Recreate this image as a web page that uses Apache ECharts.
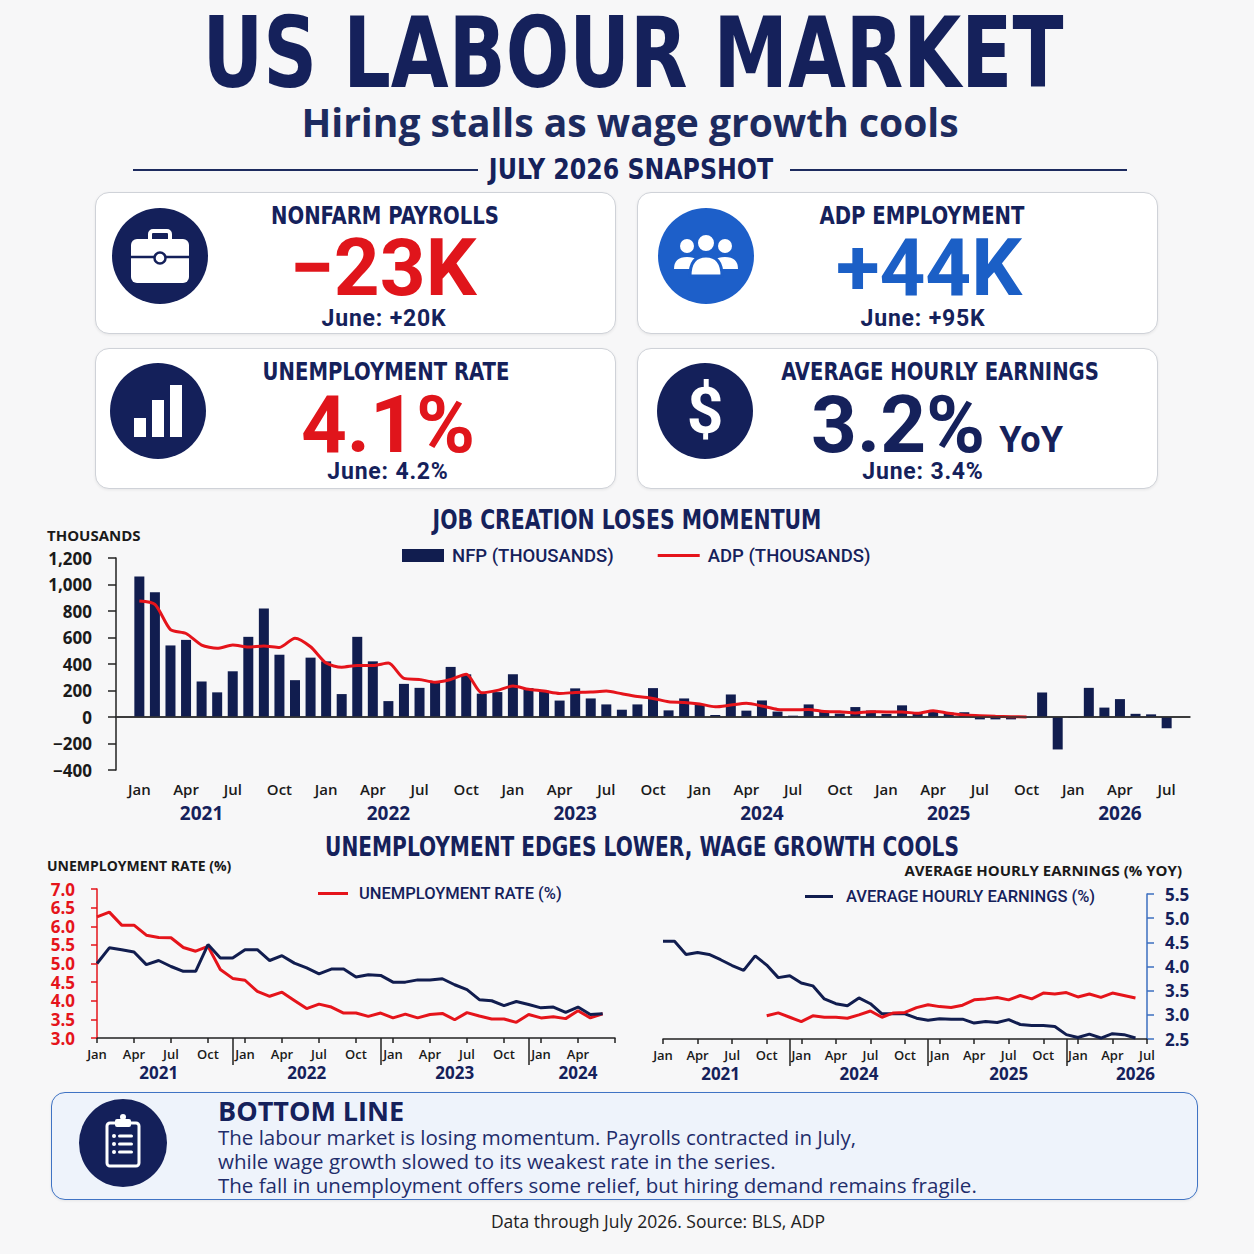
<!DOCTYPE html>
<html>
<head>
<meta charset="utf-8">
<script src="https://cdn.jsdelivr.net/npm/echarts@6/dist/echarts.min.js"></script>
<style>
html, body { margin: 0; padding: 0; background: #f7f7f8; }
#page { position: relative; width: 1254px; height: 1254px; overflow: hidden; background: #f7f7f8; color: #15215b; font-family: "Open Sans", "Noto Sans", sans-serif; }
#chart { position: absolute; left: 0; top: 0; width: 1254px; height: 1254px; }
.c { position: absolute; width: 1000px; text-align: center; white-space: nowrap; }
.narrow { font-family: "Liberation Sans Narrow", "DejaVu Sans Condensed", sans-serif; font-weight: 700; }
.big { font-family: Roboto, "Liberation Sans", sans-serif; font-weight: 700; }
.card { position: absolute; background: #fff; border: 1.5px solid #cfd2d8; border-radius: 14px; box-shadow: 0 1px 3px rgba(0,0,0,0.07); box-sizing: border-box; }
.ico { position: absolute; }
.line { position: absolute; height: 2px; background: #1d2b5f; }
.lbl { font-size: 24px; line-height: 24px; transform: scaleX(0.91); }
.val { font-size: 80px; line-height: 60px; }
.sub { font-size: 23px; line-height: 24px; letter-spacing: 0.8px; }
</style>
</head>
<body>
<div id="page">
  <div id="chart"></div>

  <div class="c narrow" style="left:8px;width:1250px;top:4px;font-size:98px;line-height:98px;transform:scaleX(0.848);">US LABOUR MARKET</div>
  <div class="c" style="left:130px;top:102px;font-size:39px;line-height:39px;font-weight:700;color:#1d2b5f;">Hiring stalls as wage growth cools</div>
  <div class="line" style="left:133px;top:169px;width:345px;"></div>
  <div class="line" style="left:790px;top:169px;width:337px;"></div>
  <div class="c narrow" style="left:131px;top:156px;font-size:28px;line-height:28px;transform:scaleX(0.94);">JULY 2026 SNAPSHOT</div>

  <div class="card" style="left:95px;top:192px;width:521px;height:142px;"></div>
  <div class="card" style="left:637px;top:192px;width:521px;height:142px;"></div>
  <div class="card" style="left:95px;top:348px;width:521px;height:141px;"></div>
  <div class="card" style="left:637px;top:348px;width:521px;height:141px;"></div>

  <svg class="ico" style="left:112px;top:208px" width="96" height="96" viewBox="0 0 96 96">
    <circle cx="48" cy="48" r="48" fill="#14205a"/>
    <path d="M38 31 v-5 a3 3 0 0 1 3 -3 h14 a3 3 0 0 1 3 3 v5" fill="none" stroke="#fff" stroke-width="4"/>
    <rect x="19" y="31" width="58" height="44" rx="6" fill="#fff"/>
    <path d="M19 49 H77" stroke="#14205a" stroke-width="2.5"/>
    <circle cx="48" cy="50" r="5.5" fill="#fff" stroke="#14205a" stroke-width="2.5"/>
  </svg>
  <svg class="ico" style="left:658px;top:208px" width="96" height="96" viewBox="0 0 96 96">
    <circle cx="48" cy="48" r="48" fill="#1d5fc9"/>
    <circle cx="29" cy="38" r="7" fill="#fff"/>
    <circle cx="67" cy="38" r="7" fill="#fff"/>
    <path d="M16 61 Q16 49 29 49 Q36 49 39 52 Q33 56 32 61 Z" fill="#fff"/>
    <path d="M80 61 Q80 49 67 49 Q60 49 57 52 Q63 56 64 61 Z" fill="#fff"/>
    <circle cx="48" cy="35" r="9" fill="#fff" stroke="#1d5fc9" stroke-width="2"/>
    <path d="M32 68 Q32 48 48 48 Q64 48 64 68 Z" fill="#fff" stroke="#1d5fc9" stroke-width="3"/>
  </svg>
  <svg class="ico" style="left:110px;top:363px" width="96" height="96" viewBox="0 0 96 96">
    <circle cx="48" cy="48" r="48" fill="#14205a"/>
    <rect x="24" y="55" width="12" height="19" fill="#fff"/>
    <rect x="42" y="37" width="12" height="37" fill="#fff"/>
    <rect x="60" y="22" width="12" height="52" fill="#fff"/>
  </svg>
  <svg class="ico" style="left:657px;top:363px" width="96" height="96" viewBox="0 0 96 96">
    <circle cx="48" cy="48" r="48" fill="#14205a"/>
    <text x="48" y="70" text-anchor="middle" font-family="Roboto, sans-serif" font-weight="700" font-size="64" fill="#fff">$</text>
  </svg>

  <div class="c narrow lbl" style="left:-115px;top:204px;">NONFARM PAYROLLS</div>
  <div class="c big val" style="left:-117px;top:238px;color:#e0151b;">&#8722;23K</div>
  <div class="c big sub" style="left:-116px;top:307px;">June: +20K</div>

  <div class="c narrow lbl" style="left:422px;top:204px;">ADP EMPLOYMENT</div>
  <div class="c big val" style="left:429px;top:238px;color:#1b5fc6;">+44K</div>
  <div class="c big sub" style="left:423px;top:307px;">June: +95K</div>

  <div class="c narrow lbl" style="left:-114px;top:360px;">UNEMPLOYMENT RATE</div>
  <div class="c big val" style="left:-112px;top:395px;color:#e0151b;">4.1%</div>
  <div class="c big sub" style="left:-112px;top:460px;">June: 4.2%</div>

  <div class="c narrow lbl" style="left:440px;top:360px;">AVERAGE HOURLY EARNINGS</div>
  <div class="c big val" style="left:437px;top:395px;">3.2%<span style="font-size:36px;line-height:36px;margin-left:14px;">YoY</span></div>
  <div class="c big sub" style="left:423px;top:460px;">June: 3.4%</div>

  <div class="card" style="left:51px;top:1092px;width:1147px;height:108px;background:#eef3fb;border-color:#3f73c4;"></div>
  <svg class="ico" style="left:79px;top:1099px" width="88" height="88" viewBox="0 0 88 88">
    <circle cx="44" cy="44" r="44" fill="#14205a"/>
    <rect x="28" y="24" width="32" height="43" rx="3" fill="none" stroke="#fff" stroke-width="3"/>
    <rect x="36" y="20" width="16" height="8" rx="2" fill="#fff"/>
    <circle cx="44" cy="18" r="3" fill="#fff"/>
    <circle cx="35" cy="37" r="2" fill="#fff"/><rect x="39" y="35.5" width="15" height="3" rx="1.5" fill="#fff"/>
    <circle cx="35" cy="45" r="2" fill="#fff"/><rect x="39" y="43.5" width="15" height="3" rx="1.5" fill="#fff"/>
    <circle cx="35" cy="53" r="2" fill="#fff"/><rect x="39" y="51.5" width="15" height="3" rx="1.5" fill="#fff"/>
  </svg>
  <div style="position:absolute;left:218px;top:1097px;font-size:27px;line-height:28px;font-weight:700;color:#15215b;white-space:nowrap;">BOTTOM LINE</div>
  <div style="position:absolute;left:218px;top:1125px;font-size:20.5px;line-height:24px;font-weight:500;color:#1f2d6b;white-space:nowrap;">
    The labour market is losing momentum. Payrolls contracted in July,<br>
    while wage growth slowed to its weakest rate in the series.<br>
    The fall in unemployment offers some relief, but hiring demand remains fragile.
  </div>
  <div class="c" style="left:158px;top:1211px;font-size:17.5px;line-height:20px;color:#222;">Data through July 2026. Source: BLS, ADP</div>
</div>

<script>
const MONTHS = ['Jan', 'Feb', 'Mar', 'Apr', 'May', 'Jun', 'Jul', 'Aug', 'Sep', 'Oct', 'Nov', 'Dec'];

// job creation, thousands, Jan 2021 - Jul 2026
const nfpK = [
	1060, 942, 540, 582, 268, 186, 345, 605, 818, 470, 278, 448,
	420, 173, 605, 420, 120, 250, 220, 262, 378, 322, 176, 188,
	322, 218, 198, 124, 216, 140, 95, 55, 95, 218, 50, 140,
	92, 15, 170, 48, 125, 41, 10, 95, 46, 26, 75, 49,
	23, 88, 33, 46, 33, 36, -18, -18, -18, -5, 185, -245,
	-5, 220, 71, 135, 24, 20, -85
];
// ADP, thousands, Jan 2021 - Oct 2025
const adpK = [
	875, 850, 660, 630, 543, 518, 543, 528, 536, 525, 595, 530,
	407, 376, 389, 389, 407, 291, 283, 263, 283, 322, 183, 201,
	234, 209, 196, 178, 185, 188, 196, 175, 155, 140, 115, 110,
	98, 77, 90, 103, 83, 57, 54, 57, 41, 39, 31, 40,
	38, 38, 28, 48, 28, 15, 10, 5, 2, 0
];

// left panel, Jan 2021 - Jun 2024
const ueRate = [
	6.25, 6.38, 6.03, 6.03, 5.76, 5.70, 5.69, 5.43, 5.33, 5.46, 4.84, 4.60,
	4.55, 4.25, 4.12, 4.23, 4.01, 3.79, 3.91, 3.83, 3.67, 3.67, 3.58, 3.67,
	3.54, 3.64, 3.54, 3.63, 3.66, 3.49, 3.68, 3.59, 3.51, 3.51, 3.42, 3.63,
	3.54, 3.57, 3.52, 3.73, 3.54, 3.65
];
const aheLeft = [
	5.00, 5.42, 5.37, 5.31, 4.97, 5.08, 4.92, 4.79, 4.79, 5.51, 5.15, 5.15,
	5.37, 5.37, 5.08, 5.21, 5.01, 4.88, 4.72, 4.85, 4.85, 4.64, 4.70, 4.68,
	4.50, 4.50, 4.56, 4.56, 4.59, 4.43, 4.30, 4.03, 4.00, 3.87, 3.98, 3.90,
	3.81, 3.83, 3.69, 3.83, 3.63, 3.65
];

// right panel, years as labelled on the axis
const aheYears = [2021, 2024, 2025, 2026];
const aheRight = [
	4.52, 4.52, 4.25, 4.29, 4.25, 4.14, 4.02, 3.92, 4.22, 4.03, 3.77, 3.81,
	3.66, 3.60, 3.33, 3.23, 3.19, 3.35, 3.23, 3.02, 3.02, 3.02, 2.93, 2.89,
	2.92, 2.91, 2.91, 2.83, 2.86, 2.84, 2.90, 2.80, 2.78, 2.78, 2.76, 2.59,
	2.53, 2.60, 2.52, 2.61, 2.59, 2.52
];
// starts Oct of the first year
const ueRight = [
	2.98, 3.04, 2.95,
	2.86, 2.98, 2.95, 2.95, 2.93, 3.00, 3.08, 2.95, 3.04, 3.05, 3.15, 3.21,
	3.17, 3.15, 3.20, 3.31, 3.33, 3.36, 3.31, 3.40, 3.33, 3.45, 3.43, 3.46,
	3.37, 3.43, 3.36, 3.45, 3.40, 3.35
];

function monthCats(years, lastMonths) {
	var out = [];
	years.forEach(function (y, i) {
		var n = (i === years.length - 1) ? lastMonths : 12;
		for (var m = 0; m < n; m++) out.push(MONTHS[m] + ' ' + y);
	});
	return out;
}

var jobCats = ['Dec 2020'].concat(monthCats([2021, 2022, 2023, 2024, 2025, 2026], 7), ['Aug 2026']);
var ueCats = monthCats([2021, 2022, 2023, 2024], 7);
var aheCats = monthCats(aheYears, 7);

const NAVY = '#111d4f';
const RED = '#e5141b';
const BLUE = '#3d6fc1';
const INK = '#1a1a1a';
const TITLE = '#15215b';
const NARROW = '"Liberation Sans Narrow", "DejaVu Sans Condensed", sans-serif';
const SANS = '"Open Sans", "Noto Sans", sans-serif';

// plain line icons for the line legends (corner points keep the box size)
const LINE_ICON_TOP = 'path://M0,0 L0.01,0 M0,5 L42,5 L42,8 L0,8 Z M42,13 L41.99,13';
const LINE_ICON_LOW = 'path://M0,0 L0.01,0 M0,4.5 L30,4.5 L30,7.5 L0,7.5 Z M30,12 L29.99,12';

var isQuarter = function (i, v) { return /^(Jan|Apr|Jul|Oct) /.test(v); };
var monthName = function (v) { return v.split(' ')[0]; };
var yearName = function (v) { return v.split(' ')[1]; };
var darkLine = { color: '#222', width: 1.5 };

function txt(x, y, text, font, fill, align, sx) {
	return {
		type: 'text', x: x, y: y, scaleX: sx || 1, silent: true,
		style: { text: text, font: font, fill: fill, textAlign: align || 'center', textVerticalAlign: 'middle' }
	};
}

var chart = echarts.init(document.getElementById('chart'), null, { renderer: 'svg', width: 1254, height: 1254 });

var option = {
	animation: false,
	backgroundColor: 'transparent',
	textStyle: { fontFamily: SANS },
	graphic: [
		txt(627, 520, 'JOB CREATION LOSES MOMENTUM', 'bold 27px ' + NARROW, TITLE, 'center', 0.84),
		txt(642, 847, 'UNEMPLOYMENT EDGES LOWER, WAGE GROWTH COOLS', 'bold 27px ' + NARROW, TITLE, 'center', 0.83),
		txt(47, 535, 'THOUSANDS', 'bold 15px ' + SANS, INK, 'left'),
		txt(47, 865, 'UNEMPLOYMENT RATE (%)', 'bold 14px ' + SANS, INK, 'left'),
		txt(1182, 870, 'AVERAGE HOURLY EARNINGS (% YOY)', 'bold 15px ' + SANS, INK, 'right')
	],
	legend: [
		{
			data: [{ name: 'NFP (THOUSANDS)', icon: 'rect' }, { name: 'ADP (THOUSANDS)', icon: LINE_ICON_TOP }],
			left: 397, top: 541, itemWidth: 42, itemHeight: 13, itemGap: 44,
			textStyle: { color: TITLE, fontSize: 18.5, fontWeight: 500, fontFamily: 'Roboto, sans-serif', padding: [0, 0, 0, 3] }
		},
		{
			data: [{ name: 'UNEMPLOYMENT RATE (%)', icon: LINE_ICON_LOW }],
			left: 313, top: 880, itemWidth: 30, itemHeight: 12,
			textStyle: { color: TITLE, fontSize: 16.5, fontWeight: 500, fontFamily: 'Roboto, sans-serif', padding: [0, 0, 0, 6] }
		},
		{
			data: [{ name: 'AVERAGE HOURLY EARNINGS (%)', icon: LINE_ICON_LOW }],
			left: 800, top: 883, itemWidth: 28, itemHeight: 12,
			textStyle: { color: TITLE, fontSize: 16.5, fontWeight: 500, fontFamily: 'Roboto, sans-serif', padding: [0, 0, 0, 8] }
		}
	],
	grid: [
		{ left: 116, top: 558, width: 1074, height: 212 },
		{ left: 97, top: 889, width: 518, height: 149 },
		{ left: 663, top: 894, width: 484, height: 145 }
	],
	xAxis: [
		{
			type: 'category', gridIndex: 0, data: jobCats, boundaryGap: true, position: 'bottom',
			axisLine: { lineStyle: darkLine },
			axisTick: { alignWithLabel: true, interval: isQuarter, length: 6, lineStyle: darkLine },
			axisLabel: { interval: isQuarter, formatter: monthName, color: INK, fontSize: 15, fontWeight: 600, margin: 11 }
		},
		{
			type: 'category', gridIndex: 0, data: jobCats, boundaryGap: true, position: 'bottom',
			axisLine: { show: false },
			axisTick: { alignWithLabel: false, interval: function (i, v) { return i > 0 && v.indexOf('Dec') === 0; }, length: 34, lineStyle: darkLine },
			axisLabel: {
				interval: function (i, v) { return (v.indexOf('May') === 0 && v !== 'May 2026') || v === 'Apr 2026'; },
				formatter: yearName, color: TITLE, fontSize: 19, fontWeight: 'bold', margin: 33
			}
		},
		{
			type: 'category', gridIndex: 1, data: ueCats, boundaryGap: false, position: 'bottom',
			axisLine: { lineStyle: darkLine },
			axisTick: { interval: function (i) { return i % 3 === 0; }, length: 5, lineStyle: darkLine },
			axisLabel: { interval: function (i) { return i % 3 === 0 && i < ueCats.length - 1; }, formatter: monthName, color: INK, fontSize: 13, fontWeight: 600, margin: 9 }
		},
		{
			type: 'category', gridIndex: 1, data: ueCats, boundaryGap: false, position: 'bottom',
			axisLine: { show: false },
			axisTick: { interval: function (i, v) { return v.indexOf('Dec') === 0; }, length: 27, lineStyle: darkLine },
			axisLabel: {
				interval: function (i, v) { return ['Jun 2021', 'Jun 2022', 'Jun 2023', 'Apr 2024'].indexOf(v) >= 0; },
				formatter: yearName, color: TITLE, fontSize: 17, fontWeight: 'bold', margin: 26
			}
		},
		{
			type: 'category', gridIndex: 2, data: aheCats, boundaryGap: false, position: 'bottom',
			axisLine: { lineStyle: darkLine },
			axisTick: { interval: function (i) { return i % 3 === 0; }, length: 5, lineStyle: darkLine },
			axisLabel: { interval: function (i) { return i % 3 === 0; }, formatter: monthName, color: INK, fontSize: 13, fontWeight: 600, margin: 9 }
		},
		{
			type: 'category', gridIndex: 2, data: aheCats, boundaryGap: false, position: 'bottom',
			axisLine: { show: false },
			axisTick: { interval: function (i, v) { return v.indexOf('Dec') === 0; }, length: 27, lineStyle: darkLine },
			axisLabel: {
				interval: function (i, v) { return ['Jun 2021', 'Jun 2024', 'Jul 2025', 'Jun 2026'].indexOf(v) >= 0; },
				formatter: yearName, color: TITLE, fontSize: 17, fontWeight: 'bold', margin: 26
			}
		}
	],
	yAxis: [
		{
			type: 'value', gridIndex: 0, min: -400, max: 1200, interval: 200,
			axisLine: { show: true, lineStyle: darkLine },
			axisTick: { show: true, length: 8, lineStyle: darkLine },
			splitLine: { show: false },
			axisLabel: {
				color: INK, fontSize: 17, fontWeight: 'bold', margin: 24,
				formatter: function (v) { return (v < 0 ? '\u2212' : '') + Math.abs(v).toLocaleString('en-US'); }
			}
		},
		{
			type: 'value', gridIndex: 1, min: 3, max: 7, interval: 0.5,
			axisLine: { show: true, lineStyle: { color: RED, width: 1.5 } },
			axisTick: { show: true, length: 6, lineStyle: { color: RED, width: 1.5 } },
			splitLine: { show: false },
			axisLabel: { color: RED, fontSize: 17, fontWeight: 'bold', margin: 22, formatter: function (v) { return v.toFixed(1); } }
		},
		{
			type: 'value', gridIndex: 2, position: 'right', min: 2.5, max: 5.5, interval: 0.5,
			axisLine: { show: true, lineStyle: { color: BLUE, width: 1.5 } },
			axisTick: { show: true, length: 7, lineStyle: { color: BLUE, width: 1.5 } },
			splitLine: { show: false },
			axisLabel: { color: TITLE, fontSize: 17, fontWeight: 'bold', margin: 18, formatter: function (v) { return v.toFixed(1); } }
		}
	],
	series: [
		{
			name: 'NFP (THOUSANDS)', type: 'bar', xAxisIndex: 0, yAxisIndex: 0,
			data: [null].concat(nfpK, [null]), barWidth: 10,
			itemStyle: { color: NAVY },
			markLine: {
				silent: true, symbol: 'none', label: { show: false },
				lineStyle: { color: '#333', width: 1.5, type: 'solid' },
				data: [{ yAxis: 0 }]
			}
		},
		{
			name: 'ADP (THOUSANDS)', type: 'line', xAxisIndex: 0, yAxisIndex: 0,
			data: [null].concat(adpK), smooth: 0.25, symbol: 'none',
			lineStyle: { color: RED, width: 3 }, itemStyle: { color: RED }, z: 3
		},
		{
			name: 'UNEMPLOYMENT RATE (%)', type: 'line', xAxisIndex: 2, yAxisIndex: 1,
			data: ueRate, symbol: 'none',
			lineStyle: { color: RED, width: 3 }, itemStyle: { color: RED }
		},
		{
			name: 'AVERAGE HOURLY EARNINGS (%)', type: 'line', xAxisIndex: 2, yAxisIndex: 1,
			data: aheLeft, symbol: 'none',
			lineStyle: { color: NAVY, width: 3 }, itemStyle: { color: NAVY }
		},
		{
			name: 'AVERAGE HOURLY EARNINGS (%)', type: 'line', xAxisIndex: 4, yAxisIndex: 2,
			data: aheRight, symbol: 'none',
			lineStyle: { color: NAVY, width: 3 }, itemStyle: { color: NAVY }
		},
		{
			name: 'UNEMPLOYMENT RATE (%)', type: 'line', xAxisIndex: 4, yAxisIndex: 2,
			data: [null, null, null, null, null, null, null, null, null].concat(ueRight), symbol: 'none',
			lineStyle: { color: RED, width: 3 }, itemStyle: { color: RED }
		}
	]
};

chart.setOption(option);
</script>
</body>
</html>
